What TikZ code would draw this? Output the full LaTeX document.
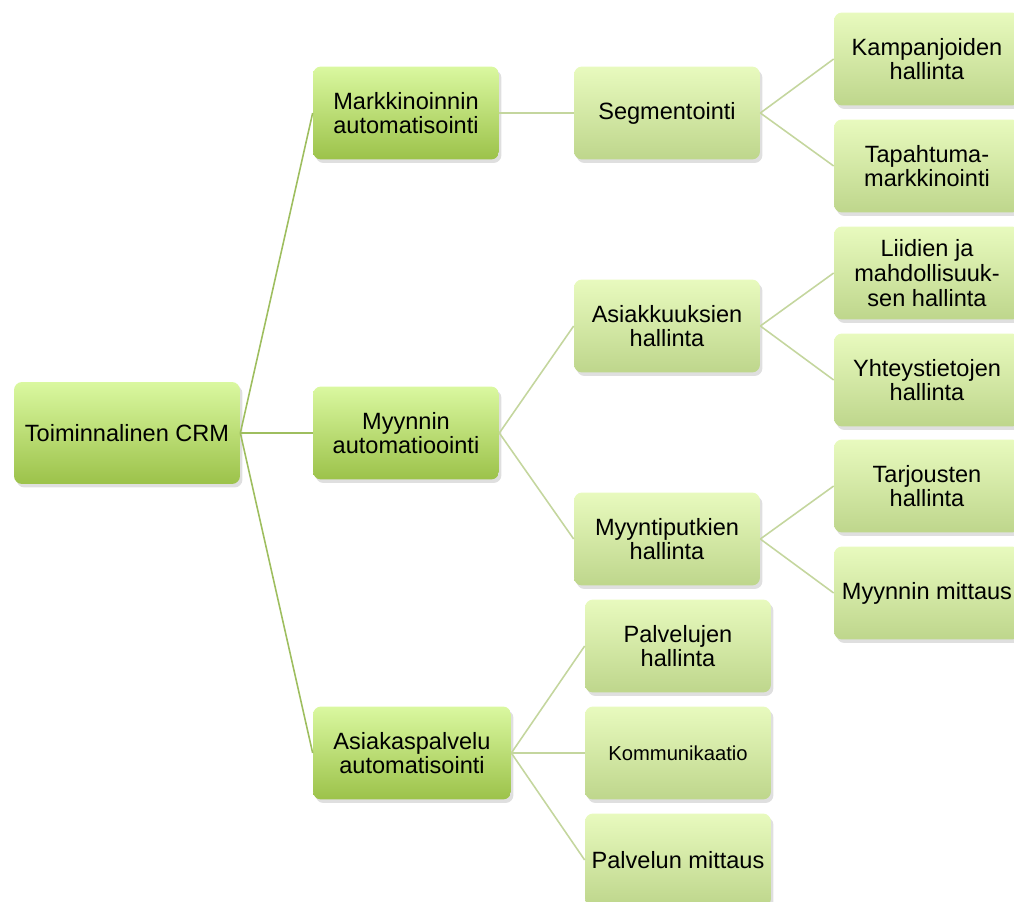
\documentclass[tikz,border=0pt]{standalone}
\usepackage{fontspec}
\setmainfont{Liberation Sans}
\usetikzlibrary{shadows}

\definecolor{stemgreen}{RGB}{158,190,95}
\definecolor{twiggreen}{RGB}{196,214,158}
\definecolor{mainTop}{RGB}{218,248,160}
\definecolor{mainBot}{RGB}{156,194,74}
\definecolor{subTop}{RGB}{232,250,190}
\definecolor{subBot}{RGB}{190,214,140}

\begin{document}
\begin{tikzpicture}[
    x=0.02cm, y=-0.02cm,
    box/.style={rounded corners=0.16cm, align=center, inner sep=2pt,
        minimum width=3.72cm, minimum height=1.86cm,
        font=\fontsize{13.4}{14}\selectfont,
        drop shadow={opacity=0.25, shadow xshift=0.05cm, shadow yshift=-0.07cm}},
    mainbox/.style={box, top color=mainTop, bottom color=mainBot},
    subbox/.style={box, top color=subTop, bottom color=subBot},
    stem/.style={stemgreen, line width=0.9pt},
    twig/.style={twiggreen, line width=0.9pt}
    ]
    \useasboundingbox (0,0) rectangle (1014,902);

    % Root
    \node[mainbox, minimum width=4.52cm, minimum height=2.04cm] (crm) at (127,433) {Toiminnalinen CRM};

    % --- First level ---
    \node[mainbox] (markk) at (406,113) {Markkinoinnin\\automatisointi};
    \node[mainbox] (myynti) at (406,433) {Myynnin\\automatioointi};
    \node[mainbox, minimum width=3.96cm] (asiak) at (412,753) {Asiakaspalvelu\\automatisointi};

    % --- Second level ---
    \node[subbox] (segm) at (667,113) {Segmentointi};
    \node[subbox] (asiakk) at (667,326) {Asiakkuuksien\\hallinta};
    \node[subbox] (putki) at (667,539) {Myyntiputkien\\hallinta};
    \node[subbox] (palv) at (678,646) {Palvelujen\\hallinta};
    \node[subbox, font=\fontsize{11.5}{13}\selectfont] (komm) at (678,753) {Kommunikaatio};
    \node[subbox] (palvmit) at (678,860) {Palvelun mittaus};

    % --- Third level ---
    \node[subbox] (kamp) at (927,59) {Kampanjoiden\\hallinta};
    \node[subbox] (tapaht) at (927,166) {Tapahtuma-\\markkinointi};
    \node[subbox] (liidit) at (927,273) {Liidien ja\\mahdollisuuk-\\sen hallinta};
    \node[subbox] (yhteys) at (927,380) {Yhteystietojen\\hallinta};
    \node[subbox] (tarj) at (927,486) {Tarjousten\\hallinta};
    \node[subbox] (mitt) at (927,593) {Myynnin mittaus};

    % Root to first level
    \draw[stem] (crm.east) -- (markk.west);
    \draw[stem] (crm.east) -- (myynti.west);
    \draw[stem] (crm.east) -- (asiak.west);

    % First to second level
    \draw[twig] (markk.east) -- (segm.west);
    \draw[twig] (myynti.east) -- (asiakk.west);
    \draw[twig] (myynti.east) -- (putki.west);
    \draw[twig] (asiak.east) -- (palv.west);
    \draw[twig] (asiak.east) -- (komm.west);
    \draw[twig] (asiak.east) -- (palvmit.west);

    % Second to third level
    \draw[twig] (segm.east) -- (kamp.west);
    \draw[twig] (segm.east) -- (tapaht.west);
    \draw[twig] (asiakk.east) -- (liidit.west);
    \draw[twig] (asiakk.east) -- (yhteys.west);
    \draw[twig] (putki.east) -- (tarj.west);
    \draw[twig] (putki.east) -- (mitt.west);
\end{tikzpicture}
\end{document}
